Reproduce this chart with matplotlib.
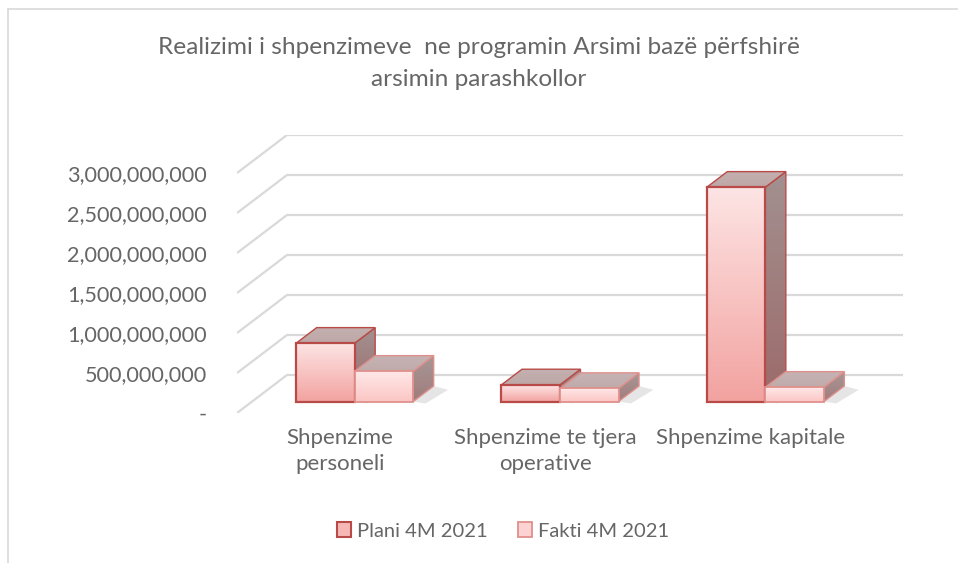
import matplotlib
matplotlib.use("Agg")
import matplotlib.pyplot as plt
import numpy as np
from matplotlib.patches import Polygon, Patch
from matplotlib.colors import LinearSegmentedColormap

# ---- data ----
categories = ["Shpenzime\npersoneli", "Shpenzime te tjera\noperative", "Shpenzime kapitale"]
series_names = ["Plani 4M 2021", "Fakti 4M 2021"]
plani = [730e6, 210e6, 2680e6]
fakti = [380e6, 165e6, 180e6]
yticks = [0, 500e6, 1000e6, 1500e6, 2000e6, 2500e6, 3000e6]
ytick_labels = ["-", "500,000,000", "1,000,000,000", "1,500,000,000",
                "2,000,000,000", "2,500,000,000", "3,000,000,000"]

plt.rcParams['font.family'] = ['Lato', 'DejaVu Sans']
W, H = 958, 563
fig = plt.figure(figsize=(W / 100, H / 100), dpi=100)
txt_c = "#666666"

# pixel geometry of the oblique projection
px_left, px_right, px_bot, px_top = 237, 903, 413, 135
xs = 616 / 3.0          # px per category unit
ys = 40 / 500e6         # px per value unit
DX = 50 / xs            # full floor depth offset in data units
DY = 38 / ys
ax = fig.add_axes([px_left / W, 1 - px_bot / H, (px_right - px_left) / W, (px_bot - px_top) / H])
XMAX, YMAX = 3 + DX, 3000e6 + DY

grid_c = "#d9d9d9"
for v in yticks:
    ax.plot([0, DX, 3 + DX], [v, v + DY, v + DY], color=grid_c, lw=1.6, zorder=1,
            solid_capstyle='butt')

z0, zd = 0.30, 0.41
bw = 0.285


def grad_poly(pts, c_top, c_bot, zorder, edge=None, lw=1.2):
    pts = np.array(pts)
    poly = Polygon(pts, closed=True, facecolor='none', edgecolor='none', zorder=zorder)
    ax.add_patch(poly)
    cmap = LinearSegmentedColormap.from_list("g", [c_bot, c_top])
    grad = np.linspace(0, 1, 64).reshape(-1, 1)
    im = ax.imshow(grad, cmap=cmap, origin='lower', aspect='auto',
                   extent=[pts[:, 0].min(), pts[:, 0].max(), pts[:, 1].min(), pts[:, 1].max()],
                   zorder=zorder, interpolation='bilinear')
    im.set_clip_path(poly)
    if edge is not None:
        ax.add_patch(Polygon(pts, closed=True, facecolor='none', edgecolor=edge, lw=lw,
                             zorder=zorder + 0.01, joinstyle='miter'))


styles = [
    dict(front=("#fde4e4", "#f2a3a0"), top=("#c4b0b0", "#bea7a7"), side=("#a39090", "#9c6b6a"),
         edge="#b84a47"),
    dict(front=("#ffe8e8", "#fbc6c4"), top=("#c6b3b3", "#c0abab"), side=("#a89696", "#a07c7b"),
         edge="#e0908c"),
]

bdx, bdy = zd * DX, zd * DY
ox, oy = z0 * DX, z0 * DY
zo = 3
for i in range(len(categories)):
    for s, vals in enumerate([plani, fakti]):
        st = styles[s]
        x0 = i + 0.5 - bw + s * bw + ox
        x1 = x0 + bw
        b = oy
        t = oy + vals[i]
        # soft shadow on the floor
        ax.add_patch(Polygon([(x1, b), (x1 + bdx, b + bdy), (x1 + bdx + 0.07, b + bdy - 0.1 * DY),
                              (x1 + 0.06, b - 0.05 * DY)], closed=True, facecolor="#555555",
                             alpha=0.15, edgecolor='none', zorder=zo - 0.5))
        # side face
        grad_poly([(x1, b), (x1, t), (x1 + bdx, t + bdy), (x1 + bdx, b + bdy)],
                  st['side'][0], st['side'][1], zo, edge=st['edge'], lw=1.0)
        # top face
        grad_poly([(x0, t), (x1, t), (x1 + bdx, t + bdy), (x0 + bdx, t + bdy)],
                  st['top'][0], st['top'][1], zo + 0.1, edge=st['edge'], lw=1.0)
        # front face via bar
        ax.bar([x0], [vals[i]], width=bw, bottom=b, align='edge',
               facecolor=st['front'][1], edgecolor='none', zorder=zo + 0.2,
               label=series_names[s] if i == 0 else None)
        grad_poly([(x0, b), (x1, b), (x1, t), (x0, t)], st['front'][0], st['front'][1],
                  zo + 0.3, edge=st['edge'], lw=1.6 if s == 0 else 1.3)
        zo += 1

ax.set_xlim(0, XMAX)
ax.set_ylim(0, YMAX)
for sp in ax.spines.values():
    sp.set_visible(False)
ax.set_yticks(yticks)
ax.set_yticklabels(ytick_labels, fontsize=15.6, color=txt_c)
ax.tick_params(axis='y', length=0, pad=21.5)
ax.set_xticks([0.5, 1.5, 2.5])
ax.set_xticklabels(categories, fontsize=16, color=txt_c, linespacing=1.38)
ax.tick_params(axis='x', length=0, pad=11)
ax.set_facecolor('none')

fig.text(479 / W, 1 - 47 / H, "Realizimi i shpenzimeve  ne programin Arsimi bazë përfshirë",
         ha='center', va='center', fontsize=17.6, color=txt_c)
fig.text(479 / W, 1 - 80 / H, "arsimin parashkollor",
         ha='center', va='center', fontsize=17.6, color=txt_c)

leg_handles = [Patch(facecolor="#f6b8b6", edgecolor="#b84a47", lw=1.5),
               Patch(facecolor="#fcd3d2", edgecolor="#e0908c", lw=1.3)]
fig.legend(leg_handles, series_names, loc='center', bbox_to_anchor=(503 / W, 1 - 531 / H),
           ncol=2, frameon=False, fontsize=14.5, handlelength=0.7, handleheight=0.7,
           handletextpad=0.3, columnspacing=1.5, labelcolor=txt_c)

# chart border
fig.add_artist(plt.Line2D([8 / W, 8 / W], [0, 1 - 9 / H], color="#d9d9d9", lw=1.2))
fig.add_artist(plt.Line2D([8 / W, 1], [1 - 9 / H, 1 - 9 / H], color="#d9d9d9", lw=1.2))

fig.savefig("out.png", dpi=100)
